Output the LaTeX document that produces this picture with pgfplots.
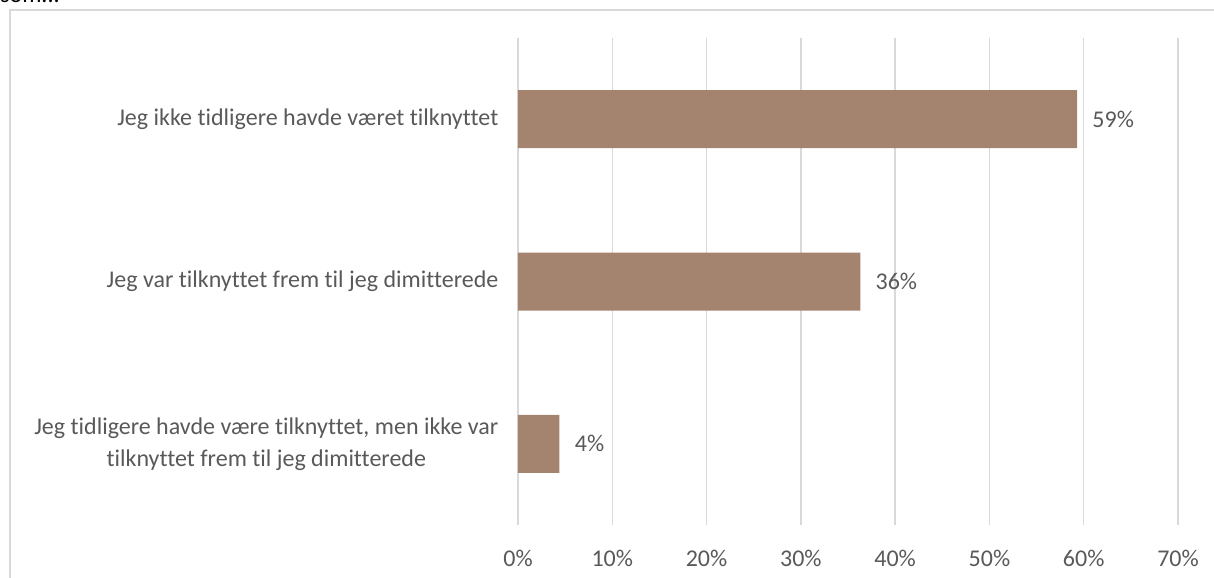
\documentclass[border=0pt]{standalone}
\usepackage{fontspec}
\setmainfont{Carlito}[Ligatures={NoCommon}]
\usepackage{pgfplots}
\pgfplotsset{compat=1.18}
\definecolor{barc}{RGB}{164,132,111}
\definecolor{txt}{RGB}{89,89,89}
\definecolor{gridc}{RGB}{217,217,217}
\begin{document}
\begin{tikzpicture}[font=\fontsize{18}{24}\selectfont, text=txt]
\path[use as bounding box] (0,0) rectangle (910.5pt,-433.5pt);
\draw[gridc, line width=1pt] (7.5pt,-450pt) -- (7.5pt,-7.5pt) -- (930pt,-7.5pt);
\node[anchor=base west, inner sep=0pt, text=black] at (0pt,-2pt) {som...};
\begin{axis}[
  at={(388.5pt,-393.75pt)}, anchor=south west, scale only axis,
  width=495pt, height=365.25pt,
  xbar, bar width=43.5pt,
  xmin=0, xmax=70, ymin=-0.5, ymax=2.5, y dir=reverse,
  xtick={0,10,...,70},
  xticklabel={\pgfmathprintnumber{\tick}\%},
  /pgf/number format/assume math mode=true,
  ytick={0,1,2},
  yticklabels={Jeg ikke tidligere havde været tilknyttet,
    Jeg var tilknyttet frem til jeg dimitterede,
    {Jeg tidligere havde være tilknyttet, men ikke var\\tilknyttet frem til jeg dimitterede}},
  yticklabel style={align=center, text=txt, xshift=-7pt},
  xticklabel style={text=txt, yshift=-15pt},
  axis line style={draw=none}, major tick style={draw=none},
  xmajorgrids, grid style={gridc, line width=1.1pt},
  point meta=explicit symbolic,
  nodes near coords,
  every node near coord/.append style={text=txt, anchor=west, xshift=8pt},
]
\addplot[fill=barc, draw=none] coordinates {(59.3,0) [59\%] (36.3,1) [36\%] (4.4,2) [4\%]};
\end{axis}
\end{tikzpicture}
\end{document}
